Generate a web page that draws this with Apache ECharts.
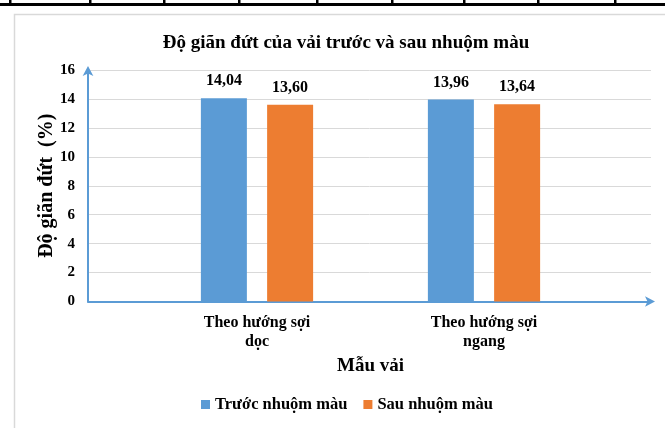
<!DOCTYPE html>
<html><head><meta charset="utf-8">
<script src="https://cdn.jsdelivr.net/npm/echarts@6/dist/echarts.min.js"></script>
<style>html,body{margin:0;padding:0;background:#fff}#c{width:665px;height:428px}</style>
</head><body><div id="c"></div>
<script>
const categories = ['Theo hướng sợi\ndọc', 'Theo hướng sợi\nngang'];
const seriesNames = ['Trước nhuộm màu', 'Sau nhuộm màu'];
const truocValues = [14.04, 13.96];
const sauValues = [13.60, 13.64];
const yTicks = [0, 2, 4, 6, 8, 10, 12, 14, 16];
const titleText = 'Độ giãn đứt của vải trước và sau nhuộm màu';
const yName = 'Độ giãn đứt  (%)';
const xName = 'Mẫu vải';

const FF = '"Liberation Serif", "Times New Roman", serif';
const BLUE = '#5B9BD5', ORANGE = '#ED7D31';
const chart = echarts.init(document.getElementById('c'), null, {renderer: 'canvas'});

const topTicks = [10, 90, 164, 239, 317, 392, 464, 538, 615];
const graphics = [
  {type: 'rect', shape: {x: 14.5, y: 14.5, width: 700, height: 500}, style: {fill: 'none', stroke: '#d9d9d9', lineWidth: 1.5}, z: -10},
  {type: 'rect', shape: {x: 0, y: 3, width: 665, height: 3}, style: {fill: '#000'}}
].concat(topTicks.map(x => ({type: 'rect', shape: {x: x - 1, y: 0, width: 2.5, height: 4}, style: {fill: '#000'}})));

const labelFmt = p => p.value.toFixed(2).replace('.', ',');

chart.setOption({
  animation: false,
  textStyle: {fontFamily: FF},
  title: {text: titleText, left: 341, textAlign: 'center', top: 29,
    textStyle: {fontFamily: FF, fontSize: 19, fontWeight: 'bold', color: '#000'}},
  legend: {data: seriesNames, top: 391, left: 196, itemWidth: 9, itemHeight: 9, itemGap: 16,
    icon: 'rect', textStyle: {fontFamily: FF, fontSize: 16.5, fontWeight: 'bold', color: '#000'}},
  graphic: graphics,
  grid: [
    {left: 88, right: 14, top: 70, bottom: 126.5},
    {left: 143.5, right: 67.5, top: 70, bottom: 126.5}
  ],
  xAxis: [
    {gridIndex: 0, type: 'value', min: 0, max: 1, show: true,
      axisLine: {show: true, lineStyle: {color: BLUE, width: 2}, symbol: ['none', 'arrow'], symbolSize: [8, 10], symbolOffset: [0, 4]},
      axisTick: {show: false}, axisLabel: {show: false}, splitLine: {show: false}},
    {gridIndex: 1, type: 'category', data: categories,
      axisLine: {show: false}, axisTick: {show: false},
      axisLabel: {margin: 12, fontFamily: FF, fontSize: 16, fontWeight: 'bold', color: '#000', lineHeight: 19},
      name: xName, nameLocation: 'middle', nameGap: 54,
      nameTextStyle: {fontFamily: FF, fontSize: 19, fontWeight: 'bold', color: '#000'}}
  ],
  yAxis: [
    {gridIndex: 0, type: 'value', min: 0, max: 16, interval: 2,
      axisLine: {show: true, lineStyle: {color: BLUE, width: 2}, symbol: ['none', 'arrow'], symbolSize: [8, 10], symbolOffset: [0, 4]},
      axisTick: {show: false},
      axisLabel: {margin: 13, fontFamily: FF, fontSize: 15, fontWeight: 'bold', color: '#000',
        formatter: v => yTicks.includes(v) ? String(v) : ''},
      splitLine: {show: true, lineStyle: {color: '#d9d9d9', width: 1}},
      name: yName, nameLocation: 'middle', nameGap: 31, nameMoveOverlap: false,
      nameTextStyle: {fontFamily: FF, fontSize: 20, fontWeight: 'bold', color: '#000'}},
    {gridIndex: 1, type: 'value', min: 0, max: 16, interval: 2, show: false}
  ],
  series: [
    {name: seriesNames[0], type: 'bar', xAxisIndex: 1, yAxisIndex: 1, data: truocValues,
      barWidth: 46, barGap: '44%', itemStyle: {color: BLUE},
      label: {show: true, position: 'top', distance: 9, formatter: labelFmt,
        fontFamily: FF, fontSize: 16, fontWeight: 'bold', color: '#000'}},
    {name: seriesNames[1], type: 'bar', xAxisIndex: 1, yAxisIndex: 1, data: sauValues,
      barWidth: 46, barGap: '44%', itemStyle: {color: ORANGE},
      label: {show: true, position: 'top', distance: 9, formatter: labelFmt,
        fontFamily: FF, fontSize: 16, fontWeight: 'bold', color: '#000'}}
  ]
});
</script></body></html>
